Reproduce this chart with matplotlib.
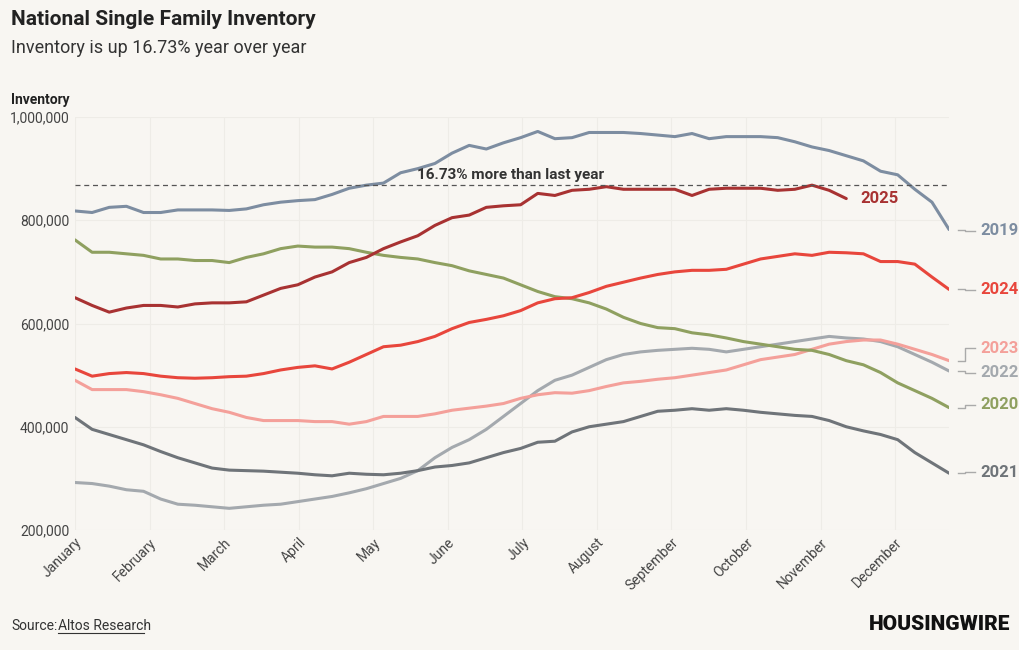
import numpy as np
import matplotlib.pyplot as plt

plt.rcParams["font.family"] = ["Roboto", "DejaVu Sans"]

BG = "#f8f6f2"

months = ["January", "February", "March", "April", "May", "June", "July",
          "August", "September", "October", "November", "December"]

inv_2019 = [818, 815, 825, 827, 815, 815, 820, 820, 820, 819, 822, 830, 835, 838, 840,
            850, 862, 868, 872, 892, 900, 910, 930, 945, 938, 950, 960, 972, 958, 960,
            970, 970, 970, 968, 965, 962, 968, 958, 962, 962, 962, 960, 952, 942, 935,
            925, 915, 895, 888, 860, 835, 782]
inv_2025 = [650, 635, 622, 630, 635, 635, 632, 638, 640, 640, 642, 655, 668, 675, 690,
            700, 718, 728, 745, 758, 770, 790, 805, 810, 825, 828, 830, 852, 848, 858,
            860, 865, 860, 860, 860, 860, 848, 860, 862, 862, 862, 858, 860, 868, 858, 842]
inv_2024 = [512, 498, 503, 505, 503, 498, 495, 494, 495, 497, 498, 503, 510, 515, 518,
            512, 525, 540, 555, 558, 565, 575, 590, 602, 608, 615, 625, 640, 648, 650,
            660, 672, 680, 688, 695, 700, 703, 703, 705, 715, 725, 730, 735, 732, 738,
            737, 735, 720, 720, 715, 690, 666]
inv_2023 = [490, 472, 472, 472, 468, 462, 455, 445, 435, 428, 418, 412, 412, 412, 410,
            410, 405, 410, 420, 420, 420, 425, 432, 436, 440, 445, 455, 462, 466, 465,
            470, 478, 485, 488, 492, 495, 500, 505, 510, 520, 530, 535, 540, 550, 560,
            565, 568, 568, 560, 550, 540, 528]
inv_2022 = [292, 290, 285, 278, 275, 260, 250, 248, 245, 242, 245, 248, 250, 255, 260,
            265, 272, 280, 290, 300, 315, 340, 360, 375, 395, 420, 445, 470, 490, 500,
            515, 530, 540, 545, 548, 550, 552, 550, 545, 550, 555, 560, 565, 570, 575,
            572, 570, 565, 555, 540, 525, 508]
inv_2020 = [762, 738, 738, 735, 732, 725, 725, 722, 722, 718, 728, 735, 745, 750, 748,
            748, 745, 738, 732, 728, 725, 718, 712, 702, 695, 688, 675, 662, 652, 648,
            640, 628, 612, 600, 592, 590, 582, 578, 572, 565, 560, 555, 550, 548, 540,
            528, 520, 505, 485, 470, 455, 437]
inv_2021 = [418, 395, 385, 375, 365, 352, 340, 330, 320, 316, 315, 314, 312, 310, 307,
            305, 310, 308, 307, 310, 315, 322, 325, 330, 340, 350, 358, 370, 372, 390,
            400, 405, 410, 420, 430, 432, 435, 432, 435, 432, 428, 425, 422, 420, 412,
            400, 392, 385, 375, 350, 330, 310]

# (values, colour, label, label y in thousands)
series = [
    (inv_2022, "#a4a9ae", "2022", 505),
    (inv_2023, "#f4a09a", "2023", 552),
    (inv_2021, "#6f7479", "2021", 312),
    (inv_2020, "#8fa060", "2020", 443),
    (inv_2024, "#e8463c", "2024", 665),
    (inv_2019, "#7d8da1", "2019", 780),
    (inv_2025, "#a83232", "2025", None),
]

fig = plt.figure(figsize=(10.2, 6.5), dpi=100)
fig.patch.set_facecolor(BG)
ax = fig.add_axes([0.0735, 0.1846, 0.857, 0.6354])
ax.set_facecolor(BG)

for vals, col, lab, ly in series:
    x = np.arange(len(vals))
    y = np.array(vals) * 1000
    ax.plot(x, y, color=col, linewidth=2.2, solid_capstyle="round")
    if ly is None:
        ax.text(x[-1] + 0.8, y[-1], lab, color=col, fontsize=12,
                fontweight="bold", va="center", ha="left")
    else:
        ax.plot([51.5, 51.9, 51.9, 52.5], [y[-1], y[-1], ly * 1000, ly * 1000],
                color="#aaaaaa", linewidth=1, clip_on=False)
        ax.text(52.8, ly * 1000, lab, color=col, fontsize=12,
                fontweight="bold", va="center", ha="left")

target = 868000
ax.axhline(target, color="#555555", linestyle=(0, (4, 3)), linewidth=0.9)
ax.text(25.4, target + 6000, "16.73% more than last year", fontsize=11,
        fontweight="bold", color="#333333", ha="center", va="bottom")

ax.set_xlim(0, 51)
ax.set_ylim(200000, 1000000)
ax.set_yticks(range(200000, 1000001, 200000))
ax.set_yticklabels([f"{v:,}" for v in range(200000, 1000001, 200000)],
                   fontsize=10, color="#444444")
ax.set_xticks([i * 4.35 for i in range(12)])
ax.set_xticklabels(months, rotation=45, ha="right", rotation_mode="anchor",
                   fontsize=10, color="#444444")
ax.grid(True, color="#eeece7", linewidth=0.8)
ax.tick_params(length=0, pad=4)
for s in ax.spines.values():
    s.set_visible(False)

fig.text(0.011, 0.962, "National Single Family Inventory", fontsize=15,
         fontweight="bold", color="#222222")
fig.text(0.011, 0.918, "Inventory is up 16.73% year over year", fontsize=13,
         color="#333333")
fig.text(0.011, 0.84, "Inventory", fontsize=10, fontweight="bold",
         color="#222222")
fig.text(0.011, 0.03, "Source:", fontsize=10, color="#333333")
fig.text(0.057, 0.03, "Altos Research", fontsize=10, color="#333333")
fig.add_artist(plt.Line2D([0.057, 0.141], [0.026, 0.026], color="#333333",
                          linewidth=0.8))
fig.text(0.99, 0.03, "HOUSINGWIRE", fontsize=15, fontweight="black",
         color="#111111", ha="right")

fig.savefig("out.png", dpi=100, facecolor=BG)
